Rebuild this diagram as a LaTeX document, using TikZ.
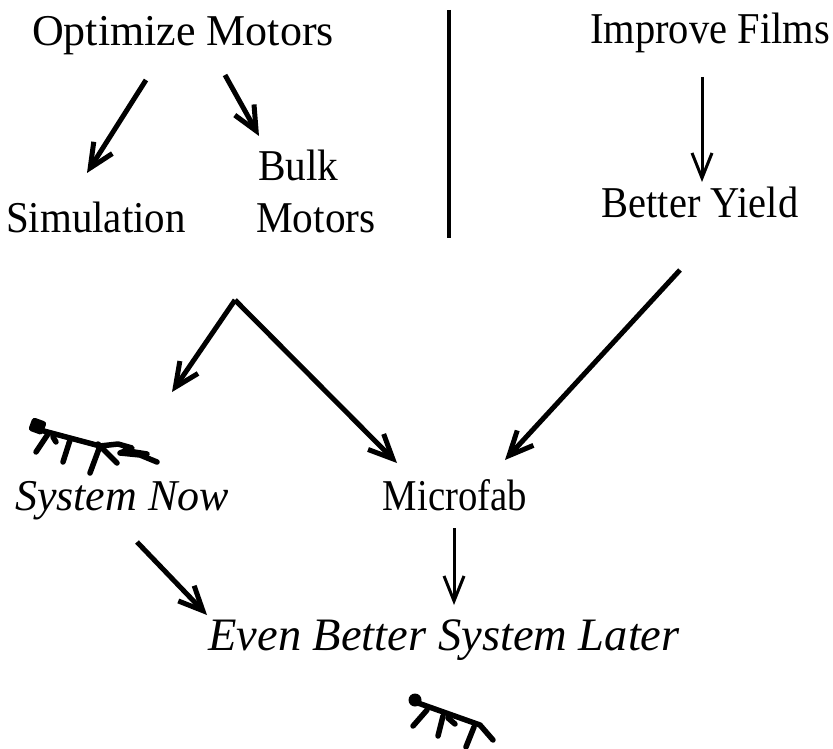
\documentclass[tikz,border=0pt]{standalone}
\usepackage{fontspec}
\setmainfont{Liberation Serif}
\usetikzlibrary{arrows.meta}
\begin{document}
\begin{tikzpicture}[x=1pt,y=-1pt,
  lbl/.style={anchor=base,inner sep=0pt,font=\fontsize{44}{44}\selectfont\addfontfeature{FakeStretch=#1}},
  lbl/.default=1,
  ilbl/.style={anchor=base,inner sep=0pt,font=\fontsize{#1}{#1}\selectfont\itshape},
  ilbl/.default=44,
  heavy/.style={line width=5pt,-{Straight Barb[length=24pt,width=22pt]}},
  light/.style={line width=3pt,-{Straight Barb[length=25pt,width=20pt]}},
  sketch/.style={line width=5.5pt,line cap=round,line join=round}]
\useasboundingbox[fill=white] (0,0) rectangle (833,749);

% labels
\node[lbl] (optimize) at (183,46) {Optimize Motors};
\node[lbl=0.92] (improve)  at (710,44) {Improve Films};
\node[lbl=0.93] (simulation) at (96,233) {Simulation};
\node[lbl=0.94,anchor=base west] (bulk) at (258,180) {Bulk};
\node[lbl=0.94,anchor=base west] (motors) at (256,233) {Motors};
\node[lbl=0.92] (yield) at (700,217) {Better Yield};
\node[ilbl=44] (now) at (122,510) {System Now};
\node[lbl=0.88] (microfab) at (455,510) {Microfab};
\node[ilbl=46.5] (later) at (444,650) {Even Better System Later};

% divider between the two branches
\coordinate (divtop) at (449,10);
\coordinate (divbot) at (449,238);
\draw[line width=4pt] (divtop) -- (divbot);

% connector end points
\coordinate (om-l) at (146,80);  \coordinate (sim-t) at (87,173);
\coordinate (om-r) at (225,75);  \coordinate (bulk-t) at (259,136);
\coordinate (if-b) at (702,77);  \coordinate (by-t) at (702,182);
\coordinate (by-b) at (680,270); \coordinate (mf-r) at (505,460);
\coordinate (split) at (235,300);
\coordinate (sn-t) at (172,392); \coordinate (mf-l) at (397,463);
\coordinate (sn-b) at (137,542); \coordinate (eb-l) at (207,615);
\coordinate (mf-b) at (454,528); \coordinate (eb-t) at (454,605);

% connectors
\draw[heavy] (om-l) -- (sim-t);
\draw[heavy] (om-r) -- (bulk-t);
\draw[light] (if-b) -- (by-t);
\draw[heavy] (by-b) -- (mf-r);
\draw[heavy] (split) -- (sn-t);
\draw[heavy] (split) -- (mf-l);
\draw[heavy] (sn-b) -- (eb-l);
\draw[light] (mf-b) -- (eb-t);

% little walking robot above "System Now"
\fill[rounded corners=3pt,rotate around={-20:(37,426)}] (30,419) rectangle (45,433);
\draw[sketch] (40,430) -- (100,446);
\draw[sketch] (100,446) -- (118,444) -- (132,448) -- (120,453) -- (140,455) -- (157,462);
\draw[sketch] (128,451) -- (147,454);
\draw[sketch] (48,434) -- (36,452);
\draw[sketch] (53,437) -- (56,442);
\draw[sketch] (70,440) -- (63,462);
\draw[sketch] (100,446) -- (90,473);
\draw[sketch] (98,444) -- (117,463);

% little walking robot at the bottom
\fill (415,700) circle (6.5);
\draw[sketch] (418,703) -- (480,725) -- (493,740);
\draw[sketch] (427,710) -- (413,726);
\draw[sketch] (443,716) -- (438,736);
\draw[sketch] (474,727) -- (466,747);
\draw[sketch] (448,718) -- (455,724);
\end{tikzpicture}
\end{document}
